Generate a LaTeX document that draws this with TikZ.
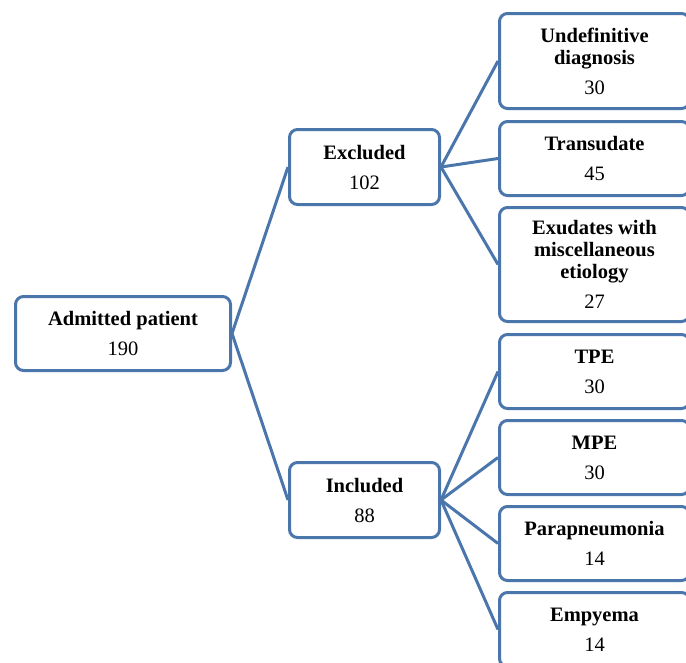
\documentclass[tikz,border=0pt]{standalone}
\usepackage{fontspec}
\setmainfont{Liberation Serif}
\definecolor{edge}{RGB}{74,118,172}
\begin{document}
\begin{tikzpicture}[x=1pt,y=-1pt,
  box/.style={draw=edge,line width=3pt,rounded corners=8pt,fill=white,align=center,
    font=\fontsize{20.5}{22}\selectfont,inner sep=0pt,anchor=north west},
  link/.style={draw=edge,line width=3pt}]
\useasboundingbox (0,0) rectangle (686,662);
\node[box,minimum width=215pt,minimum height=74pt] (adm) at (14,295) {\textbf{Admitted patient}\\[8pt]190};
\node[box,minimum width=150pt,minimum height=75pt] (exc) at (288,128) {\textbf{Excluded}\\[8pt]102};
\node[box,minimum width=150pt,minimum height=75pt] (inc) at (288,461) {\textbf{Included}\\[8pt]88};
\node[box,minimum width=190pt,minimum height=95pt] (und) at (498,12) {\textbf{Undefinitive}\\\textbf{diagnosis}\\[8pt]30};
\node[box,minimum width=190pt,minimum height=74pt] (tra) at (498,120) {\textbf{Transudate}\\[8pt]45};
\node[box,minimum width=190pt,minimum height=114pt] (exu) at (498,206) {\textbf{Exudates with}\\\textbf{miscellaneous}\\\textbf{etiology}\\[8pt]27};
\node[box,minimum width=190pt,minimum height=74pt] (tpe) at (498,333) {\textbf{TPE}\\[8pt]30};
\node[box,minimum width=190pt,minimum height=74pt] (mpe) at (498,419) {\textbf{MPE}\\[8pt]30};
\node[box,minimum width=190pt,minimum height=74pt] (par) at (498,505) {\textbf{Parapneumonia}\\[8pt]14};
\node[box,minimum width=190pt,minimum height=74pt] (emp) at (498,591) {\textbf{Empyema}\\[8pt]14};
\draw[link] (adm.east) -- (exc.west);
\draw[link] (adm.east) -- (inc.west);
\draw[link] (exc.east) -- (und.west);
\draw[link] (exc.east) -- (tra.west);
\draw[link] (exc.east) -- (exu.west);
\draw[link] (inc.east) -- (tpe.west);
\draw[link] (inc.east) -- (mpe.west);
\draw[link] (inc.east) -- (par.west);
\draw[link] (inc.east) -- (emp.west);
\end{tikzpicture}
\end{document}
